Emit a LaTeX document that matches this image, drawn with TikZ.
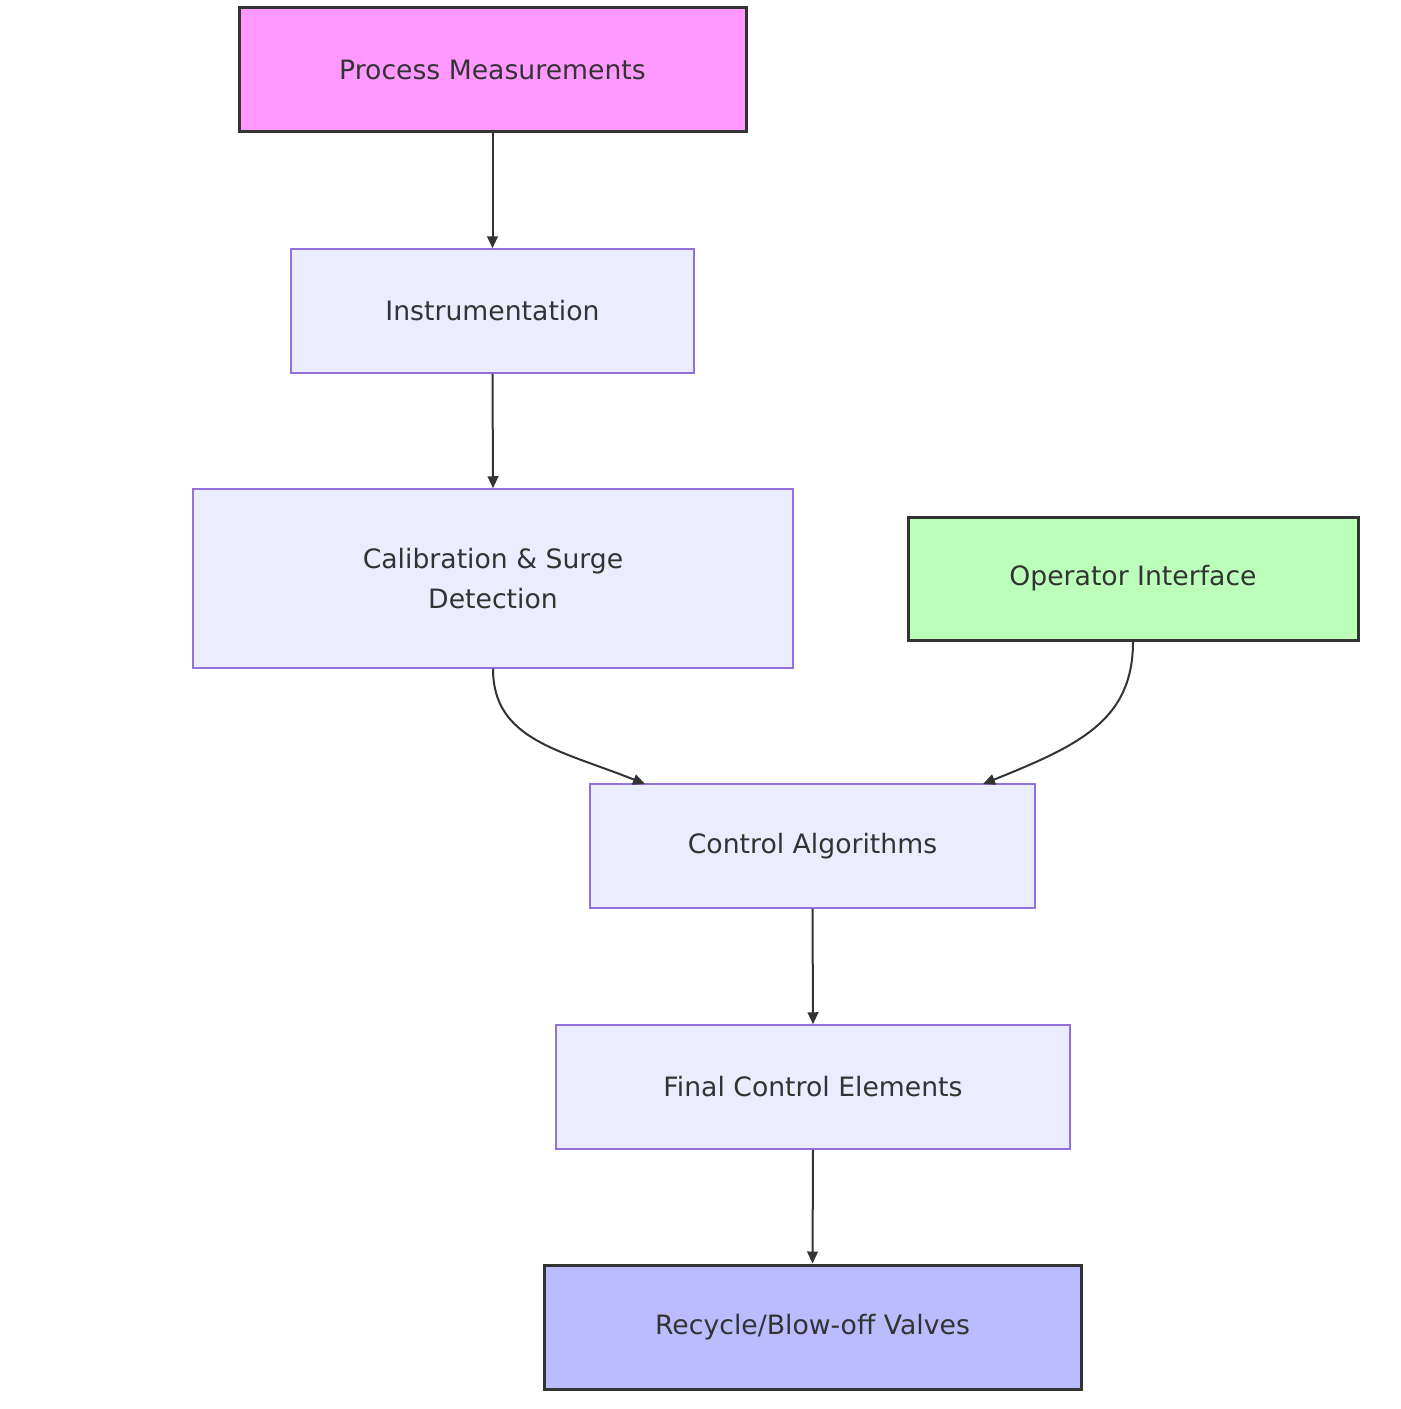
\documentclass[tikz,border=0pt]{standalone}
\usepackage{fontspec}
\setmainfont{DejaVu Sans}
\usetikzlibrary{arrows.meta}
\definecolor{pm}{HTML}{FF99FF}
\definecolor{std}{HTML}{ECECFF}
\definecolor{stdb}{HTML}{9370DB}
\definecolor{op}{HTML}{BBFFBB}
\definecolor{rv}{HTML}{BBBBFF}
\definecolor{dk}{HTML}{333333}
\begin{document}
\begin{tikzpicture}[x=0.75pt,y=-0.75pt,
  box/.style={draw=stdb,fill=std,line width=1.5pt*0.75,font=\fontsize{20}{30}\selectfont,text=dk,align=center},
  hbox/.style={draw=dk,line width=3pt*0.75,font=\fontsize{20}{30}\selectfont,text=dk,align=center},
  arr/.style={draw=dk,line width=1.5pt,-{Triangle[length=9pt,width=8pt]}}]
\useasboundingbox (0,0) rectangle (1400,1409);
\node[hbox,fill=pm,minimum width=507*0.75pt,minimum height=124*0.75pt] (pm) at (492.5,70) {Process Measurements};
\node[box,minimum width=403*0.75pt,minimum height=124*0.75pt] (in) at (492.5,311) {Instrumentation};
\node[box,minimum width=600*0.75pt,minimum height=179*0.75pt] (ca) at (493,578.5) {Calibration \& Surge\\Detection};
\node[hbox,fill=op,minimum width=450*0.75pt,minimum height=123*0.75pt] (op) at (1133,578.5) {Operator Interface};
\node[box,minimum width=445*0.75pt,minimum height=124*0.75pt] (co) at (812.5,846) {Control Algorithms};
\node[box,minimum width=514*0.75pt,minimum height=124*0.75pt] (fc) at (813,1087) {Final Control Elements};
\node[hbox,fill=rv,minimum width=537*0.75pt,minimum height=124*0.75pt] (rv) at (812.5,1327) {Recycle/Blow-off Valves};
\coordinate (c1) at (645,784);
\coordinate (c2) at (983,784);
\draw[arr] (pm.south) -- (in.north);
\draw[arr] (in.south) -- (ca.north);
\draw[arr] (ca.south) .. controls (493,740) and (560,750) .. (c1);
\draw[arr] (op.south) .. controls (1133,720) and (1080,745) .. (c2);
\draw[arr] (co.south) -- (fc.north);
\draw[arr] (fc.south) -- (rv.north);
\end{tikzpicture}
\end{document}
